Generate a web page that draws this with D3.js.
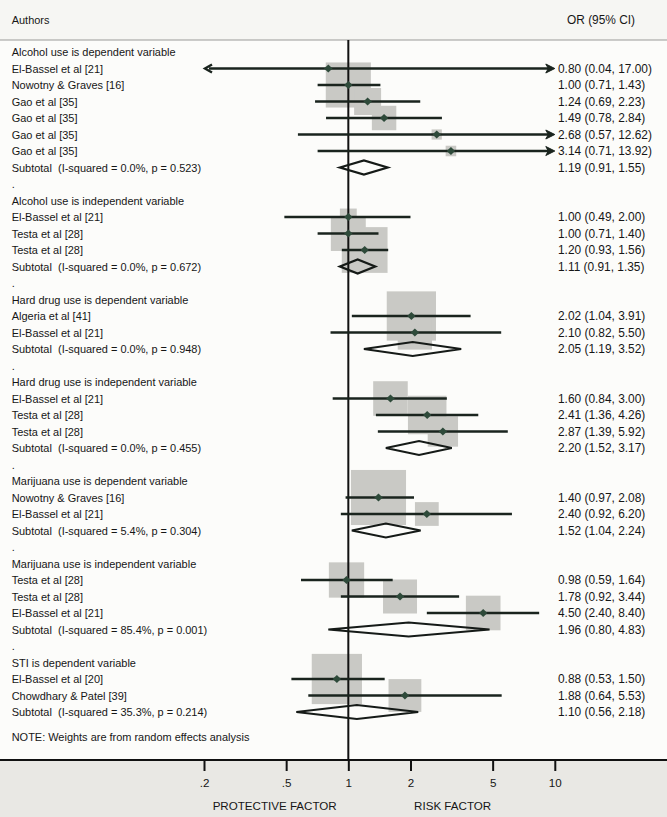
<!DOCTYPE html>
<html><head><meta charset="utf-8">
<script src="https://cdn.jsdelivr.net/npm/d3@7"></script>
<style>
body{margin:0;background:#fcfcfa}
text{font-family:'Liberation Sans',Arial,sans-serif;font-size:11.8px;fill:#161616;white-space:pre}
text.val{font-size:11.9px}
text.tk{font-size:11.6px}
</style>
</head><body>
<svg id="c" width="667" height="817"></svg>
<script>
const groupTitles = [
  "Alcohol use is dependent variable",
  "Alcohol use is independent variable",
  "Hard drug use is dependent variable",
  "Hard drug use is independent variable",
  "Marijuana use is dependent variable",
  "Marijuana use is independent variable",
  "STI is dependent variable"
];
const studyGroup = [0,0,0,0,0,0, 1,1,1, 2,2, 3,3,3, 4,4, 5,5,5, 6,6];
const studyNames = [
  "El-Bassel et al [21]","Nowotny & Graves [16]","Gao et al [35]","Gao et al [35]","Gao et al [35]","Gao et al [35]",
  "El-Bassel et al [21]","Testa et al [28]","Testa et al [28]",
  "Algeria et al [41]","El-Bassel et al [21]",
  "El-Bassel et al [21]","Testa et al [28]","Testa et al [28]",
  "Nowotny & Graves [16]","El-Bassel et al [21]",
  "Testa et al [28]","Testa et al [28]","El-Bassel et al [21]",
  "El-Bassel et al [20]","Chowdhary & Patel [39]"
];
const studyOR = [0.80,1.00,1.24,1.49,2.68,3.14, 1.00,1.00,1.20, 2.02,2.10, 1.60,2.41,2.87, 1.40,2.40, 0.98,1.78,4.50, 0.88,1.88];
const studyLo = [0.04,0.71,0.69,0.78,0.57,0.71, 0.49,0.71,0.93, 1.04,0.82, 0.84,1.36,1.39, 0.97,0.92, 0.59,0.92,2.40, 0.53,0.64];
const studyHi = [17.00,1.43,2.23,2.84,12.62,13.92, 2.00,1.40,1.56, 3.91,5.50, 3.00,4.26,5.92, 2.08,6.20, 1.64,3.44,8.40, 1.50,5.53];
// weights (%)
const studyWeight = [0.8,56.5,20.2,16.6,2.9,3.1, 7.9,33.9,58.2, 67.4,32.6, 33.2,41.2,25.6, 84.3,15.7, 34.6,32.1,33.3, 70.1,29.9];
const subtotalLabels = [
  "Subtotal  (I-squared = 0.0%, p = 0.523)",
  "Subtotal  (I-squared = 0.0%, p = 0.672)",
  "Subtotal  (I-squared = 0.0%, p = 0.948)",
  "Subtotal  (I-squared = 0.0%, p = 0.455)",
  "Subtotal  (I-squared = 5.4%, p = 0.304)",
  "Subtotal  (I-squared = 85.4%, p = 0.001)",
  "Subtotal  (I-squared = 35.3%, p = 0.214)"
];
const subOR = [1.19,1.11,2.05,2.20,1.52,1.96,1.10];
const subLo = [0.91,0.91,1.19,1.52,1.04,0.80,0.56];
const subHi = [1.55,1.35,3.52,3.17,2.24,4.83,2.18];
const tickValues = [0.2,0.5,1,2,5,10];
const tickLabels = [".2",".5","1","2","5","10"];
const noteText = "NOTE: Weights are from random effects analysis";

const W = 667, H = 817;
const svg = d3.select("#c");
const fmt = v => v.toFixed(2);
const ciText = (o,l,h) => `${fmt(o)} (${fmt(l)}, ${fmt(h)})`;

// build rows
const rows = [];
groupTitles.forEach((g, gi) => {
  rows.push({type:"head", label:g});
  studyNames.forEach((n, i) => {
    if (studyGroup[i] === gi) rows.push({type:"study", label:n, or:studyOR[i], lo:studyLo[i], hi:studyHi[i], w:studyWeight[i]});
  });
  rows.push({type:"sub", label:subtotalLabels[gi], or:subOR[gi], lo:subLo[gi], hi:subHi[gi]});
  if (gi < groupTitles.length - 1) rows.push({type:"dot", label:"."});
});
rows.forEach((r,i)=> r.i = i);

const y = d3.scaleLinear().domain([0, rows.length - 1]).range([52, 712]);
const x = d3.scaleLog().domain([0.2, 10]).range([204, 554.8]);
const boxSize = d3.scaleSqrt().domain([0, 100]).range([0, 60]);
const [xmin, xmax] = x.domain();

const axisY = 760, headLineY = 40;
const labelX = 11.7, labelScale = 0.93;

// backgrounds
svg.append("rect").attr("x",0).attr("y",0).attr("width",W).attr("height",headLineY).attr("fill","#f6f6f3");
svg.append("rect").attr("x",0).attr("y",headLineY).attr("width",W).attr("height",axisY-headLineY).attr("fill","#fcfcfa");
svg.append("rect").attr("x",0).attr("y",axisY).attr("width",W).attr("height",H-axisY).attr("fill","#e9e8e4");

// header
const leftG = svg.append("g").attr("transform",`translate(${labelX},0) scale(${labelScale},1)`);
leftG.append("text").attr("x",0).attr("y",20).attr("dy","0.35em").text("Authors");
svg.append("text").attr("class","val").attr("x",567).attr("y",20).attr("dy","0.35em").text("OR (95% CI)");
svg.append("line").attr("x1",0).attr("x2",W).attr("y1",headLineY).attr("y2",headLineY)
  .attr("stroke","#9a9a98").attr("stroke-width",1.2);

const studies = rows.filter(r => r.type === "study");
const subs = rows.filter(r => r.type === "sub");

// boxes
svg.append("g").selectAll("rect").data(studies).join("rect")
  .attr("x", d => x(d.or) - boxSize(d.w)/2)
  .attr("y", d => y(d.i) - boxSize(d.w)/2)
  .attr("width", d => boxSize(d.w))
  .attr("height", d => boxSize(d.w))
  .attr("fill", "#c9c9c5");

// null line
svg.append("line").attr("x1",x(1)).attr("x2",x(1)).attr("y1",headLineY).attr("y2",axisY)
  .attr("stroke","#111").attr("stroke-width",2);

// CI lines
const ciG = svg.append("g");
const lineColor = "#1a241e";
studies.forEach(d => {
  const yy = y(d.i);
  const l = Math.max(d.lo, xmin), h = Math.min(d.hi, xmax);
  const x1 = x(l), x2 = x(h);
  const ll = d.lo < xmin ? x1 + 5 : x1;
  const hh = d.hi > xmax ? x2 - 6 : x2;
  ciG.append("line").attr("x1",ll).attr("x2",hh).attr("y1",yy).attr("y2",yy)
    .attr("stroke",lineColor).attr("stroke-width",2.4);
  if (d.lo < xmin) {
    ciG.append("path").attr("d",`M${x1+8},${yy-4} L${x1+1},${yy} L${x1+8},${yy+4}`)
      .attr("fill","none").attr("stroke",lineColor).attr("stroke-width",2.4).attr("stroke-linejoin","miter");
  }
  if (d.hi > xmax) {
    ciG.append("path").attr("d",`M${x2},${yy} L${x2-9},${yy-4.5} L${x2-6.5},${yy} L${x2-9},${yy+4.5} Z`)
      .attr("fill",lineColor).attr("stroke",lineColor).attr("stroke-width",1);
  }
});

// point estimates
svg.append("g").selectAll("path").data(studies).join("path")
  .attr("d", d => { const cx = x(d.or), cy = y(d.i); return `M${cx-4.2},${cy} L${cx},${cy-3.9} L${cx+4.2},${cy} L${cx},${cy+3.9} Z`; })
  .attr("fill","#2e4a3a");

// subtotal diamonds
svg.append("g").selectAll("path").data(subs).join("path")
  .attr("d", d => { const cy = y(d.i); return `M${x(d.lo)},${cy} L${x(d.or)},${cy-7} L${x(d.hi)},${cy} L${x(d.or)},${cy+7} Z`; })
  .attr("fill","none").attr("stroke","#151a17").attr("stroke-width",2.2).attr("stroke-linejoin","miter");

// left labels
leftG.append("g").selectAll("text").data(rows).join("text")
  .attr("x", 0).attr("y", d => y(d.i)).attr("dy","0.35em")
  .text(d => d.label);

// right labels
svg.append("g").selectAll("text").data(rows.filter(r => r.type === "study" || r.type === "sub")).join("text")
  .attr("class","val")
  .attr("x", 558).attr("y", d => y(d.i)).attr("dy","0.35em")
  .text(d => ciText(d.or, d.lo, d.hi));

// note
leftG.append("text").attr("x",0).attr("y", y(rows.length - 1 + 1.5)).attr("dy","0.35em").text(noteText);

// axis
const axisG = svg.append("g").attr("transform",`translate(0,${axisY})`)
  .call(d3.axisBottom(x).tickValues(tickValues).tickFormat((d,i)=>tickLabels[i]).tickSize(11).tickPadding(8));
axisG.select(".domain").remove();
axisG.selectAll(".tick line").attr("stroke","#111").attr("stroke-width",2);
axisG.selectAll(".tick text").attr("class","tk").attr("font-family",null).attr("font-size",null).style("fill","#161616");
svg.append("line").attr("x1",0).attr("x2",W).attr("y1",axisY).attr("y2",axisY)
  .attr("stroke","#111").attr("stroke-width",2);

svg.append("text").attr("class","tk").attr("x", x(0.44)).attr("y", 806).attr("dy","0.35em").attr("text-anchor","middle").text("PROTECTIVE FACTOR");
svg.append("text").attr("class","tk").attr("x", x(3.2)).attr("y", 806).attr("dy","0.35em").attr("text-anchor","middle").text("RISK FACTOR");
</script>
</body></html>
